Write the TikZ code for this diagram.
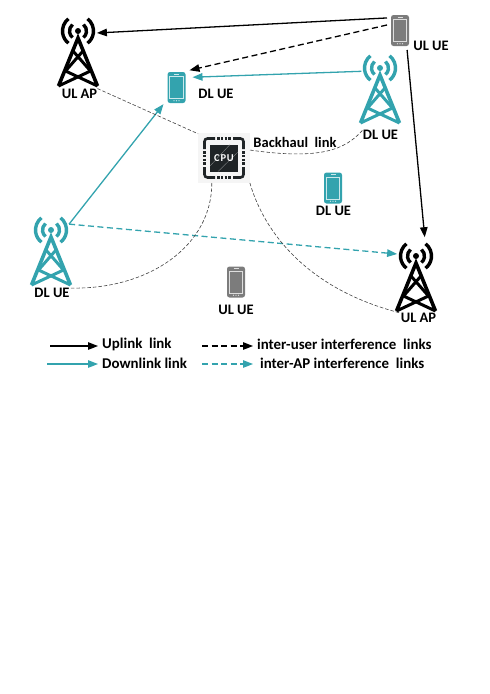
\documentclass[tikz,border=0pt]{standalone}
\usepackage{fontspec}
\setmainfont{Carlito}
\usetikzlibrary{arrows.meta,calc}
\definecolor{teal1}{HTML}{33A3AE}
\definecolor{phgray}{HTML}{7C7C7C}
\definecolor{cpudark}{HTML}{1F2426}
\tikzset{
  labeltext/.style={font=\fontsize{14.5}{16}\selectfont\bfseries,inner sep=0pt,text=black},
  legendtext/.style={font=\fontsize{14.9}{16}\selectfont\bfseries,inner sep=0pt,anchor=west,text=black},
  towerhead/.style={circle,minimum size=38pt,inner sep=0pt,outer sep=0pt},
  phonebox/.style={rectangle,minimum width=18pt,minimum height=31pt,inner sep=0pt,outer sep=4pt},
  cpubox/.style={rectangle,minimum width=52pt,minimum height=50pt,inner sep=0pt,outer sep=0pt,fill=black!4},
  uplink/.style={draw=black,line width=1.3pt,-{Triangle[length=10pt,width=7.5pt]}},
  downlink/.style={draw=teal1,line width=1.3pt,-{Triangle[length=10pt,width=7.5pt]}},
  userint/.style={uplink,dash pattern=on 6pt off 3.5pt},
  apint/.style={downlink,dash pattern=on 6pt off 3.5pt},
  backhaul/.style={draw=black!75,line width=0.6pt,dash pattern=on 3.5pt off 2pt},
  pics/mast/.style={code={
    \begin{scope}[line width=3.4pt,draw=#1]
      \fill[#1] (0,0) circle (3pt);
      \draw (50:8.5pt) arc[start angle=50,end angle=-50,radius=8.5pt];
      \draw (130:8.5pt) arc[start angle=130,end angle=230,radius=8.5pt];
      \draw (52:15.5pt) arc[start angle=52,end angle=-52,radius=15.5pt];
      \draw (128:15.5pt) arc[start angle=128,end angle=232,radius=15.5pt];
      \draw[line join=miter,line width=3.6pt] (-19.5,55) -- (0,7) -- (19.5,55);
      \draw[line width=3pt] (-5,20) -- (12.5,40) (5,20) -- (-12.5,40)
        (-12.5,40) -- (19.5,55) (12.5,40) -- (-19.5,55);
    \end{scope}}},
  pics/handset/.style={code={
    \fill[#1,rounded corners=2.5pt] (-9,-15.5) rectangle (9,15.5);
    \draw[white!75!#1,line width=0.7pt] (-6.8,-11) rectangle (6.8,11);
    \draw[white!75!#1,line width=0.8pt] (-2.5,-13.5) -- (2.5,-13.5);
    \foreach \dx in {-2.5,0,2.5} \fill[white!80!#1] (\dx,13.2) circle (0.6pt);
  }},
  pics/cpuchip/.style={code={
    \fill[cpudark] (-14,-13.5) rectangle (14,13.5);
    \draw[white!50!cpudark,line width=0.3pt] (-14,8) -- (6,-13.5) (-6,13.5) -- (14,-6);
    \begin{scope}[draw=cpudark,line width=2.6pt]
      \draw[rounded corners=3pt] (-19.5,-9) -- (-19.5,-19.5) -- (-9,-19.5);
      \draw[rounded corners=3pt] (9,-19.5) -- (19.5,-19.5) -- (19.5,-9);
      \draw[rounded corners=3pt] (19.5,9) -- (19.5,19.5) -- (9,19.5);
      \draw[rounded corners=3pt] (-9,19.5) -- (-19.5,19.5) -- (-19.5,9);
      \foreach \u in {-5.5,-1.8,1.8,5.5} {
        \draw (\u-1.1,-19.5) -- (\u+1.1,-19.5);
        \draw (\u-1.1,19.5) -- (\u+1.1,19.5);
        \draw (-19.5,\u-1.1) -- (-19.5,\u+1.1);
        \draw (19.5,\u-1.1) -- (19.5,\u+1.1);
      }
    \end{scope}
  }}
}
\begin{document}
\begin{tikzpicture}[x=1pt,y=-1pt]
\useasboundingbox (0,0) rectangle (490,694);

% CPU
\node[cpubox] (cpu) at (224,158) {};
\pic at (cpu.center) {cpuchip};
\node[font=\fontsize{10.5}{12}\selectfont\bfseries,text=white,inner sep=0pt] (cputext) at (cpu.center) {C\kern0.8pt P\kern0.8pt U};

% towers
\node[towerhead] (ulapa) at (78,31) {};
\pic at (ulapa.center) {mast=black};
\node[towerhead] (dlapa) at (380,68) {};
\pic at (dlapa.center) {mast=teal1};
\node[towerhead] (dlapb) at (51,230) {};
\pic at (dlapb.center) {mast=teal1};
\node[towerhead] (ulapb) at (416,256) {};
\pic at (ulapb.center) {mast=black};

% phones
\node[phonebox] (dluea) at (176.5,87.5) {};
\pic at (dluea.center) {handset=teal1};
\node[phonebox] (uluea) at (400,30.5) {};
\pic at (uluea.center) {handset=phgray};
\node[phonebox] (dlueb) at (333,188) {};
\pic at (dlueb.center) {handset=teal1};
\node[phonebox] (ulueb) at (236,282) {};
\pic at (ulueb.center) {handset=phgray};

% labels
\node[labeltext] (lulapa) at (79.5,93.5) {UL AP};
\node[labeltext] (ldluea) at (216,93.5) {DL UE};
\node[labeltext] (luluea) at (431,45.5) {UL UE};
\node[labeltext] (ldlapa) at (380.5,135) {DL UE};
\node[labeltext] (lback) at (295,142) {Backhaul\ \ link};
\node[labeltext] (ldlueb) at (333.5,211) {DL UE};
\node[labeltext] (ldlapb) at (52,293) {DL UE};
\node[labeltext] (lulueb) at (236,310) {UL UE};
\node[labeltext] (lulapb) at (418.5,318) {UL AP};

% links
\draw[uplink] (uluea.136) -- (ulapa.-6);
\draw[userint] (uluea.157) -- (dluea.53);
\draw[downlink,shorten >=3pt] (dlapa.-170) -- (dluea.38);
\draw[downlink] (dlapb.18) -- (dluea.-128);
\draw[apint] (dlapb.18) -- (ulapb.174);
\draw[uplink,shorten >=2pt] (uluea.-70) -- (ulapb.62);

% backhaul
\draw[backhaul] (lulapa.north east) -- (cpu.137);
\draw[backhaul] (cpu.-116) .. controls (212,245) and (150,290) .. (ldlapb.north east);
\draw[backhaul] (cpu.17) .. controls (320,160) and (345,150) .. (ldlapa.north west);
\draw[backhaul] (cpu.-44) .. controls (265,235) and (310,290) .. (lulapb.north west);

% legend
\coordinate (ka) at (50,346);
\coordinate (kb) at (98,346);
\coordinate (kc) at (47,364);
\coordinate (kd) at (98,364);
\coordinate (ke) at (202,346);
\coordinate (kf) at (253,346);
\coordinate (kg) at (202,364);
\coordinate (kh) at (253,364);
\draw[uplink] (ka) -- (kb);
\draw[downlink] (kc) -- (kd);
\draw[userint] (ke) -- (kf);
\draw[apint] (kg) -- (kh);
\node[legendtext] (ta) at (102,344) {Uplink\ \ link};
\node[legendtext] (tb) at (102,363) {Downlink link};
\node[legendtext] (tc) at (257,344) {inter-user interference\ \ links};
\node[legendtext] (td) at (260,363) {inter-AP interference\ \ links};
\end{tikzpicture}
\end{document}
